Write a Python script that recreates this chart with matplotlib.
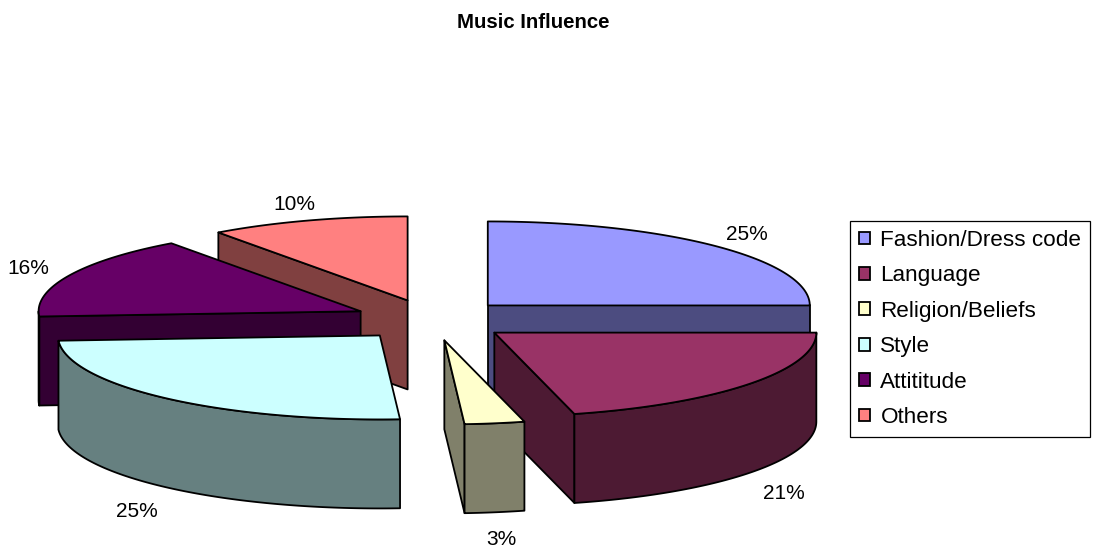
import numpy as np
import matplotlib.pyplot as plt
from matplotlib.patches import Polygon, Patch

plt.rcParams['font.family'] = ['Liberation Sans', 'DejaVu Sans']

# ---- data ----
categories = ["Fashion/Dress code", "Language", "Religion/Beliefs",
              "Style", "Attititude", "Others"]
shares = [25, 21, 3, 25, 16, 10]
top_colors = ["#9999FF", "#993366", "#FFFFCC", "#CCFFFF", "#660066", "#FF8080"]
side_colors = ["#4C4C80", "#4D1A33", "#80806A", "#668080", "#330033", "#804040"]

# ---- layout (pixels) ----
W, H = 1093, 550
CX, CY = 432, 320          # pie centre
RX, RY = 322, 84           # ellipse radii of the top face
DEPTH = 89                 # thickness of the pie
EXPLODE = 0.245            # radial offset of each slice, fraction of radius
LW = 1.3

fig = plt.figure(figsize=(W / 100, H / 100), dpi=100)
ax = fig.add_axes([0, 0, 1, 1])
ax.set_xlim(0, W)
ax.set_ylim(H, 0)
ax.axis("off")


def ell(t):
    t = np.radians(t)
    return RX * np.cos(t), -RY * np.sin(t)


# slice geometry, clockwise from 12 o'clock
total = sum(shares)
start = 90.0
slices = []
for i, v in enumerate(shares):
    hi = start
    lo = start - v / total * 360
    start = lo
    mid = (hi + lo) / 2
    dx, dy = ell(mid)
    slices.append((i, lo, hi, mid, CX + EXPLODE * dx, CY + EXPLODE * dy))

# back slices first
order = sorted(slices, key=lambda s: -np.sin(np.radians(s[3])))

z = 1
for i, lo, hi, mid, vx, vy in order:
    side = side_colors[i]
    style = dict(ec="black", lw=LW, joinstyle="round", zorder=z)

    # radial cut faces that turn towards the viewer
    for t, show in ((lo, np.cos(np.radians(lo)) > 1e-9),
                    (hi, np.cos(np.radians(hi)) < -1e-9)):
        if show:
            ex, ey = ell(t)
            face = [(vx, vy), (vx + ex, vy + ey),
                    (vx + ex, vy + ey + DEPTH), (vx, vy + DEPTH)]
            ax.add_patch(Polygon(face, closed=True, fc=side, **style))

    # outer curved wall on the front half
    for k in (-1, 0, 1):
        a = max(lo, -180 + 360 * k)
        b = min(hi, 360 * k)
        if b > a:
            ts = np.linspace(a, b, 100)
            ex, ey = ell(ts)
            upper = np.column_stack([vx + ex, vy + ey])
            lower = np.column_stack([vx + ex, vy + ey + DEPTH])[::-1]
            ax.add_patch(Polygon(np.vstack([upper, lower]), closed=True,
                                 fc=side, **style))

    # top face
    ts = np.linspace(lo, hi, 150)
    ex, ey = ell(ts)
    pts = np.vstack([[vx, vy], np.column_stack([vx + ex, vy + ey])])
    ax.add_patch(Polygon(pts, closed=True, fc=top_colors[i], **style))
    z += 1

# percentage labels outside each slice
for i, lo, hi, mid, vx, vy in slices:
    c, s = np.cos(np.radians(mid)), np.sin(np.radians(mid))
    lx = vx + (RX + 45) * c
    if s >= 0:
        ly = vy - (RY + 17) * s
    else:
        ly = vy - (RY + 27) * s + DEPTH + 5 * abs(c)
    ax.text(lx, ly, f"{round(shares[i] / total * 100)}%",
            ha="center", va="center", fontsize=15, zorder=20)

fig.text(533 / W, 1 - 22 / H, "Music Influence", ha="center", va="center",
         fontsize=14.7, fontweight="bold")

handles = [Patch(fc=c, ec="black", lw=LW) for c in top_colors]
leg = ax.legend(handles, categories, loc="upper left",
                bbox_to_anchor=(850 / W, 1 - 221 / H),
                bbox_transform=fig.transFigure, frameon=True, fancybox=False,
                edgecolor="black", framealpha=1, borderaxespad=0,
                handlelength=0.5, handleheight=0.5, handletextpad=0.45,
                labelspacing=0.64, borderpad=0.4, prop={"size": 16.2})
leg.get_frame().set_linewidth(0.9)

fig.savefig("out.png", dpi=100)
